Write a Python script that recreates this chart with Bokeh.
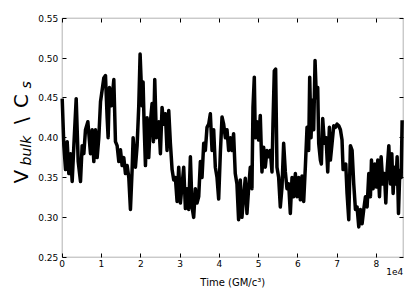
from bokeh.plotting import figure
from bokeh.models import (Range1d, LinearAxis, Label, FixedTicker, PrintfTickFormatter,
                          CustomJSTickFormatter, CustomLabelingPolicy, BoxAnnotation)
from bokeh.embed import file_html
from bokeh.resources import INLINE
import math

# time in GM/c^3
time = [0, 420, 850, 1270, 1690, 2120, 2540, 2970, 3560, 4070, 4660, 5080, 5510, 5930,
        6530, 7200, 7630, 8050, 8470, 8900, 9320, 9750, 10170, 10590, 11020, 11440, 11690,
        12030, 12540, 13140, 13560, 13980, 14410, 14830, 15250, 15680, 16100, 16530, 16950,
        17370, 17800, 18050, 18640, 19070, 19490, 19830, 20340, 20590, 20850, 21190, 21610,
        22030, 22460, 22880, 23220, 23560, 23980, 24580, 25000, 25420, 25850, 26270, 26690,
        27120, 27540, 27970, 28390, 28810, 29240, 29660, 30080, 30510, 30930, 31360, 31780,
        32200, 32630, 33050, 33470, 33900, 34320, 34750, 35170, 35590, 36020, 36440, 36860,
        37290, 37710, 38140, 38560, 38980, 39410, 39830, 40250, 40680, 41100, 41530, 41950,
        42370, 42800, 43220,
        43630, 44050, 44480, 44900, 45330, 45750, 46180, 46600, 47030, 47450, 47880, 48300,
        48560, 48900, 49150, 49580, 50000, 50420, 50850, 51270, 51700, 52120, 52550, 52970,
        53400, 53650, 53990, 54330, 54670, 55100, 55520, 55950, 56370, 56800, 57220, 57650,
        58070, 58500, 58920, 59350, 59770, 60200, 60620, 61050, 61470, 61890, 62320, 62740,
        63000, 63340, 63680, 64020, 64360, 64700, 65040, 65290, 65720, 65970, 66310, 66740,
        67160, 67590, 68010, 68270, 68690, 69120, 69540, 69970, 70390, 70820, 71230, 71500,
        71830, 72180, 72510, 72940, 73360, 73790, 74210, 74640, 75060, 75490, 75910, 76330,
        76760, 77190, 77610, 78040, 78460, 78720, 79140, 79570, 79990, 80330, 80760, 81180,
        81610, 82030, 82370, 82710, 83140, 83560, 83900, 84240, 84580, 84920, 85260, 85600,
        85940, 86280, 86530]
v_bulk = [0.449, 0.39, 0.36, 0.395, 0.355, 0.38, 0.345, 0.39, 0.449, 0.37, 0.345, 0.39, 0.38, 0.41,
          0.42, 0.38, 0.41, 0.37, 0.41, 0.375, 0.40, 0.445, 0.46, 0.475, 0.478, 0.425, 0.40,
          0.463, 0.44, 0.473, 0.395, 0.39, 0.37, 0.385, 0.365, 0.375, 0.355, 0.365, 0.35,
          0.31, 0.36, 0.40, 0.363, 0.39, 0.44, 0.505, 0.44, 0.47, 0.417, 0.365, 0.425,
          0.375, 0.42, 0.443, 0.395, 0.473, 0.40, 0.42, 0.38, 0.438, 0.417, 0.43, 0.384,
          0.434, 0.393, 0.36, 0.347, 0.35, 0.32, 0.363, 0.318, 0.34, 0.363, 0.311, 0.336,
          0.31, 0.376, 0.313, 0.30, 0.336, 0.318, 0.326, 0.37, 0.35, 0.393, 0.384, 0.413,
          0.417, 0.43, 0.384, 0.41, 0.363, 0.35, 0.323, 0.38, 0.426, 0.417, 0.40, 0.41,
          0.384, 0.40, 0.384,
          0.405, 0.355, 0.342, 0.297, 0.347, 0.30, 0.326, 0.349, 0.305, 0.336, 0.363, 0.336,
          0.438, 0.476, 0.40, 0.42, 0.397, 0.428, 0.357, 0.388, 0.363, 0.384, 0.376, 0.384,
          0.357, 0.417, 0.484, 0.486, 0.363, 0.35, 0.313, 0.338, 0.393, 0.357, 0.336, 0.342,
          0.305, 0.35, 0.326, 0.355, 0.326, 0.35, 0.322, 0.352, 0.32, 0.363, 0.413, 0.384,
          0.476, 0.40, 0.447, 0.41, 0.497, 0.45, 0.463, 0.393, 0.372, 0.367, 0.424, 0.393,
          0.40, 0.357, 0.413, 0.372, 0.393, 0.415, 0.413, 0.417, 0.415, 0.41, 0.397, 0.36,
          0.363, 0.367, 0.33, 0.297, 0.39, 0.384, 0.342, 0.31, 0.313, 0.288, 0.31, 0.292,
          0.31, 0.326, 0.313, 0.355, 0.326, 0.372, 0.336, 0.367, 0.338, 0.372, 0.326, 0.376,
          0.342, 0.355, 0.318, 0.359, 0.39, 0.342, 0.38, 0.33, 0.363, 0.342, 0.376, 0.305,
          0.359, 0.35, 0.422]

x_ticks = [0, 10000, 20000, 30000, 40000, 50000, 60000, 70000, 80000]
y_ticks = [0.25, 0.30, 0.35, 0.40, 0.45, 0.50, 0.55]
x_label = "Time (GM/c³)"
offset_label = "1e4"
y_label_parts = ["V", "bulk", "\\", "C", "s"]

X_MIN, X_MAX = 0, 86800
Y_MIN, Y_MAX = 0.25, 0.55
FONT = "DejaVu Sans"

# ---- page geometry (pixels) ----
W, H = 410, 294
BOX_L, BOX_R, BOX_T, BOX_B = 61.7, 402.7, 17.7, 256.7

# the frame fills the whole canvas; the ranges are widened so that the
# axes box lands at BOX_*, leaving room for all texts inside the frame
px_x = (BOX_R - BOX_L) / (X_MAX - X_MIN)
px_y = (BOX_B - BOX_T) / (Y_MAX - Y_MIN)
x_range = Range1d(X_MIN - BOX_L / px_x, X_MAX + (W - BOX_R) / px_x)
y_range = Range1d(Y_MIN - (H - BOX_B) / px_y, Y_MAX + BOX_T / px_y)

p = figure(width=W, height=H, output_backend="svg", toolbar_location=None,
           x_range=x_range, y_range=y_range,
           x_axis_location=None, y_axis_location=None,
           min_border_left=0, min_border_right=0, min_border_top=0, min_border_bottom=0)
p.background_fill_color = "white"
p.border_fill_color = "white"
p.outline_line_color = None
p.xgrid.visible = False
p.ygrid.visible = False

p.add_layout(BoxAnnotation(left=X_MIN, right=X_MAX, bottom=Y_MIN, top=Y_MAX,
                           fill_color=None, fill_alpha=0, line_color="black",
                           line_width=1))

p.line(time, v_bulk, line_color="black", line_width=3.5, line_join="round")

hide_all = CustomLabelingPolicy(code="""
    const n = indices.size
    for (let i = 0; i < n; i++) { indices.unset(i) }
    return indices
""")

def make_axis(loc, ticks, side, show_labels, standoff=4):
    ax = LinearAxis(fixed_location=loc)
    ax.ticker = FixedTicker(ticks=ticks)
    ax.minor_tick_line_color = None
    ax.major_tick_in = 4
    ax.major_tick_out = 0
    ax.major_tick_line_color = "black"
    ax.axis_line_color = None
    ax.major_label_text_font = FONT
    ax.major_label_text_color = "black"
    if show_labels:
        ax.major_label_text_font_size = "9px"
        ax.major_label_standoff = standoff
    else:
        ax.major_label_text_font_size = "0px"
        ax.major_label_standoff = 0
        ax.major_label_policy = hide_all
    p.add_layout(ax, side)
    return ax

xa = make_axis(Y_MIN, x_ticks, "below", True, standoff=3)
xa.formatter = CustomJSTickFormatter(code="return (tick/1e4).toFixed(0);")
ya = make_axis(X_MIN, y_ticks, "left", True, standoff=4)
ya.formatter = PrintfTickFormatter(format="%.2f")
make_axis(X_MAX, y_ticks, "right", False)
make_axis(Y_MAX, x_ticks, "above", False)

def label(text, sx, sy, size, align="left", baseline="alphabetic", angle=0.0,
          style="normal"):
    p.add_layout(Label(x=sx, y=sy, x_units="screen", y_units="screen", text=text,
                       angle=angle, text_align=align, text_baseline=baseline,
                       text_font=FONT, text_font_size=size, text_font_style=style,
                       text_color="black"))

# x label and offset text (page y measured from top -> frame y from bottom)
label(x_label, (BOX_L + BOX_R) / 2, H - 282, "10px", align="center", baseline="middle")
label(offset_label, BOX_R, H - 270.5, "9px", align="right", baseline="middle")

# y axis label composed: V_bulk \ C_s  (text bottom x, start y from top)
parts = [
    (y_label_parts[0], 20.5, 183.0, "20px", "normal"),
    (y_label_parts[1], 25.0, 165.0, "14px", "italic"),
    (y_label_parts[2], 20.5, 123.5, "20px", "normal"),
    (y_label_parts[3], 20.5, 107.5, "20px", "normal"),
    (y_label_parts[4], 25.0, 88.0, "14px", "italic"),
]
for txt, bx, top_y, fs, st in parts:
    label(txt, bx, H - top_y, fs, angle=math.pi / 2, style=st)

open("out.html", "w").write(file_html(p, INLINE))
